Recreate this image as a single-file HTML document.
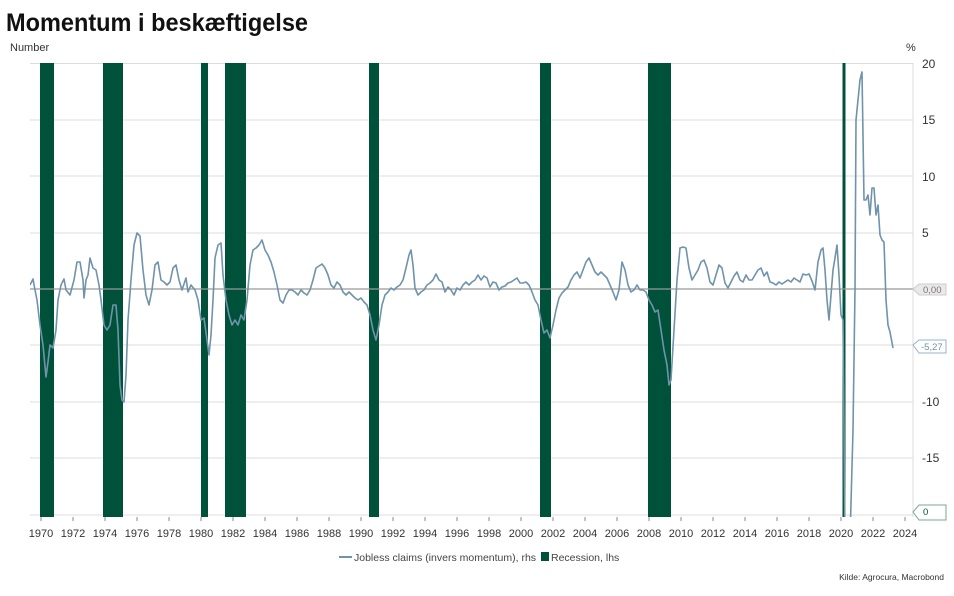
<!DOCTYPE html>
<html><head><meta charset="utf-8"><style>
body{margin:0;background:#fff;font-family:"Liberation Sans",sans-serif}
</style></head><body>
<svg width="954" height="591" viewBox="0 0 954 591" xmlns="http://www.w3.org/2000/svg" font-family="Liberation Sans, sans-serif">
<text x="6" y="31" font-size="25" font-weight="bold" fill="#111" textLength="302" lengthAdjust="spacingAndGlyphs">Momentum i beskæftigelse</text>
<text x="10" y="51" font-size="11" fill="#333">Number</text>
<text x="906" y="51" font-size="11" fill="#333">%</text>
<defs><clipPath id="c"><rect x="30" y="63" width="883" height="454"/></clipPath></defs>
<g stroke="#dcdcdc" stroke-width="1">
<line x1="30" y1="63.5" x2="913" y2="63.5"/><line x1="30" y1="120" x2="913" y2="120"/><line x1="30" y1="176" x2="913" y2="176"/><line x1="30" y1="233" x2="913" y2="233"/><line x1="30" y1="345" x2="913" y2="345"/><line x1="30" y1="402" x2="913" y2="402"/><line x1="30" y1="458" x2="913" y2="458"/><line x1="30" y1="515" x2="913" y2="515"/>
<line x1="913" y1="63" x2="913" y2="517"/>
</g>
<g fill="#00513a">
<rect x="40" y="63" width="14" height="454"/><rect x="103" y="63" width="20" height="454"/><rect x="201" y="63" width="7" height="454"/><rect x="225" y="63" width="21" height="454"/><rect x="369" y="63" width="10" height="454"/><rect x="540" y="63" width="11" height="454"/><rect x="648" y="63" width="23" height="454"/><rect x="842.5" y="63" width="3" height="454"/>
</g>
<line x1="30" y1="289" x2="913" y2="289" stroke="#999" stroke-width="1.2"/>
<polyline clip-path="url(#c)" fill="none" stroke="#6f93aa" stroke-width="1.6" stroke-linejoin="round" points="30,285 33,279 35,290 37,300 40,325 43,345 46,377 48,362 50,345 53,348 56,330 58,300 61,285 64,279 66,290 70,295 74,280 77,262 80,262 83,280 84,298 86,280 88,275 90,258 93,268 96,270 99,285 101,300 104,325 107,330 110,325 113,305 116,305 118,330 120,385 122,400 124,402 126,375 128,320 131,280 134,245 137,233 140,236 143,270 146,295 149,305 152,290 155,265 158,262 161,280 164,282 167,285 170,282 173,268 176,265 179,280 182,290 186,278 188,292 191,285 195,290 198,300 201,320 204,318 207,340 209,355 211,335 213,300 215,258 218,245 221,243 223,275 226,300 229,315 232,325 235,320 238,325 241,315 244,320 247,300 250,265 253,250 256,248 259,245 262,240 265,250 268,255 271,262 274,272 277,285 280,300 283,303 286,295 289,290 292,290 295,292 298,295 301,290 304,293 307,295 310,290 313,280 316,268 319,266 322,264 325,268 328,275 331,285 334,288 337,282 340,285 343,292 346,295 349,292 352,295 355,298 358,300 361,298 364,302 367,305 370,315 373,330 376,340 379,325 382,305 385,295 388,292 391,288 394,290 397,287 400,285 403,280 406,268 409,255 411,250 413,265 415,288 418,295 421,292 424,290 427,285 430,283 433,280 436,274 439,280 442,282 445,292 448,287 451,290 454,295 457,288 460,290 463,285 466,282 469,285 472,282 475,280 478,275 481,280 484,276 487,278 490,287 493,282 496,283 499,290 502,287 505,286 508,283 511,282 514,280 517,278 520,283 523,283 526,282 529,285 532,292 535,300 538,305 541,320 544,333 547,330 550,338 553,325 556,310 559,298 562,293 565,290 568,287 571,280 574,275 577,272 580,278 583,270 586,262 589,258 592,265 595,272 598,275 601,272 604,275 607,278 610,285 613,292 616,300 619,290 622,262 625,270 628,285 631,292 634,290 637,285 640,290 643,290 646,292 649,300 652,305 655,312 658,310 661,330 664,350 667,365 669,385 671,380 674,330 677,280 680,248 683,247 686,248 689,268 692,280 695,275 698,270 701,262 704,260 707,268 710,282 713,285 716,275 719,265 722,268 725,283 728,288 731,282 734,276 737,272 740,280 743,282 746,275 749,280 752,280 755,275 758,270 761,268 764,276 767,272 770,282 773,283 776,285 779,282 782,284 785,282 788,280 791,282 794,278 797,280 800,282 803,274 806,275 809,274 812,281 815,290 818,262 821,250 823,248 825,270 827,300 829,320 831,295 833,270 835,258 837,245 839,275 841,315 843,320 845,540 850,540 853,430 855,290 856,120 858,100 860,80 862,72 864,200 866,200 868,195 870,215 872,188 874,188 876,215 878,205 880,235 882,240 884,242 886,300 888,325 890,332 893,348"/>
<g font-size="12" fill="#333">
<text x="922" y="68">20</text><text x="922" y="124">15</text><text x="922" y="181">10</text><text x="922" y="237">5</text><text x="922" y="406">-10</text><text x="922" y="462">-15</text>
</g>
<g font-size="9.5">
<path d="M913,289 L919,284 H946 V295 H919 Z" fill="#ebe8e8" stroke="#ccc"/><text x="923" y="293" fill="#777">0,00</text>
<path d="M913,345 L919,340 H946 V353 H919 Z" fill="#fff" stroke="#9bb3c4"/><text x="921" y="350" fill="#6f93aa">-5,27</text>
<path d="M913,512 L919,505 H946 V520 H919 Z" fill="#fff" stroke="#7aa892"/><text x="923" y="515" fill="#00513a">0</text>
</g>
<g stroke="#888"><line x1="41" y1="517" x2="41" y2="521"/><line x1="73" y1="517" x2="73" y2="521"/><line x1="105" y1="517" x2="105" y2="521"/><line x1="137" y1="517" x2="137" y2="521"/><line x1="169" y1="517" x2="169" y2="521"/><line x1="201" y1="517" x2="201" y2="521"/><line x1="233" y1="517" x2="233" y2="521"/><line x1="265" y1="517" x2="265" y2="521"/><line x1="297" y1="517" x2="297" y2="521"/><line x1="329" y1="517" x2="329" y2="521"/><line x1="361" y1="517" x2="361" y2="521"/><line x1="393" y1="517" x2="393" y2="521"/><line x1="425" y1="517" x2="425" y2="521"/><line x1="457" y1="517" x2="457" y2="521"/><line x1="489" y1="517" x2="489" y2="521"/><line x1="521" y1="517" x2="521" y2="521"/><line x1="553" y1="517" x2="553" y2="521"/><line x1="585" y1="517" x2="585" y2="521"/><line x1="617" y1="517" x2="617" y2="521"/><line x1="649" y1="517" x2="649" y2="521"/><line x1="681" y1="517" x2="681" y2="521"/><line x1="713" y1="517" x2="713" y2="521"/><line x1="745" y1="517" x2="745" y2="521"/><line x1="777" y1="517" x2="777" y2="521"/><line x1="809" y1="517" x2="809" y2="521"/><line x1="841" y1="517" x2="841" y2="521"/><line x1="873" y1="517" x2="873" y2="521"/><line x1="905" y1="517" x2="905" y2="521"/></g>
<g font-size="11" fill="#333" text-anchor="middle">
<text x="41" y="537">1970</text><text x="73" y="537">1972</text><text x="105" y="537">1974</text><text x="137" y="537">1976</text><text x="169" y="537">1978</text><text x="201" y="537">1980</text><text x="233" y="537">1982</text><text x="265" y="537">1984</text><text x="297" y="537">1986</text><text x="329" y="537">1988</text><text x="361" y="537">1990</text><text x="393" y="537">1992</text><text x="425" y="537">1994</text><text x="457" y="537">1996</text><text x="489" y="537">1998</text><text x="521" y="537">2000</text><text x="553" y="537">2002</text><text x="585" y="537">2004</text><text x="617" y="537">2006</text><text x="649" y="537">2008</text><text x="681" y="537">2010</text><text x="713" y="537">2012</text><text x="745" y="537">2014</text><text x="777" y="537">2016</text><text x="809" y="537">2018</text><text x="841" y="537">2020</text><text x="873" y="537">2022</text><text x="905" y="537">2024</text>
</g>
<line x1="339" y1="557" x2="352" y2="557" stroke="#6f93aa" stroke-width="2"/>
<text x="354" y="561" font-size="10.5" fill="#444">Jobless claims (invers momentum), rhs</text>
<rect x="541" y="552" width="8" height="9" fill="#00513a"/>
<text x="551" y="561" font-size="10.5" fill="#444">Recession, lhs</text>
<text x="944" y="580" font-size="8.5" fill="#333" text-anchor="end">Kilde: Agrocura, Macrobond</text>
</svg>
</body></html>
